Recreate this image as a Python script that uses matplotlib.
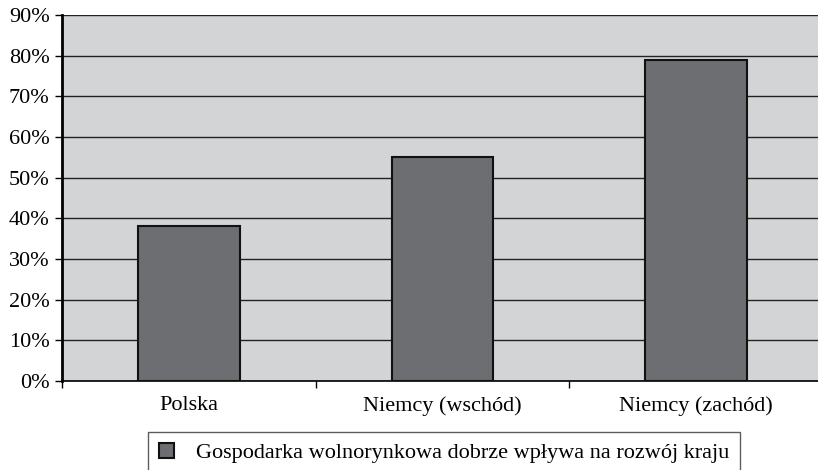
import matplotlib.pyplot as plt
from matplotlib.ticker import FixedLocator

# Data
categories = ["Polska", "Niemcy (wschód)", "Niemcy (zachód)"]
values = [38, 55, 79]
series_label = "Gospodarka wolnorynkowa dobrze wpływa na rozwój kraju"
y_ticks = [0, 10, 20, 30, 40, 50, 60, 70, 80, 90]

plt.rcParams["font.family"] = ["Liberation Serif", "DejaVu Serif"]

fig = plt.figure(figsize=(8.18, 4.70), dpi=100)
W, H = 818, 470
ax = fig.add_axes([62 / W, 1 - 381 / H, (823 - 62) / W, (381 - 15) / H])

ax.set_facecolor("#d3d4d6")
x = list(range(len(categories)))
ax.bar(x, values, width=0.40, color="#6d6e71", edgecolor="#111111",
       linewidth=1.5, zorder=3, label=series_label)

ax.set_xlim(-0.5, len(categories) - 0.5)
ax.set_ylim(0, 90)
ax.set_yticks(y_ticks)
ax.set_yticklabels([f"{t}%" for t in y_ticks], fontsize=16)
ax.yaxis.grid(True, color="#222222", linewidth=1.0, zorder=1)
ax.set_axisbelow(True)

# category labels centered, ticks at boundaries
ax.xaxis.set_major_locator(FixedLocator([-0.5, 0.5, 1.5, 2.5]))
ax.set_xticklabels([])
ax.xaxis.set_minor_locator(FixedLocator(x))
ax.set_xticklabels(categories, minor=True, fontsize=16)
ax.tick_params(axis="x", which="minor", length=0, pad=11)
ax.tick_params(axis="x", which="major", length=5, width=1, direction="out")
ax.tick_params(axis="y", length=5, width=1, direction="out", pad=4)

ax.spines["right"].set_visible(False)
ax.spines["top"].set_visible(False)
ax.spines["left"].set_linewidth(2)
ax.spines["bottom"].set_linewidth(1.2)

leg = fig.legend(loc="upper left", bbox_to_anchor=(148 / W, 1 - 432 / H),
                 fontsize=16, frameon=True, fancybox=False, borderpad=0.5,
                 handlelength=0.65, handleheight=0.65, handletextpad=1.0,
                 borderaxespad=0)
leg.get_frame().set_edgecolor("#333333")
leg.get_frame().set_linewidth(1.0)

fig.savefig("out.png", dpi=100)
